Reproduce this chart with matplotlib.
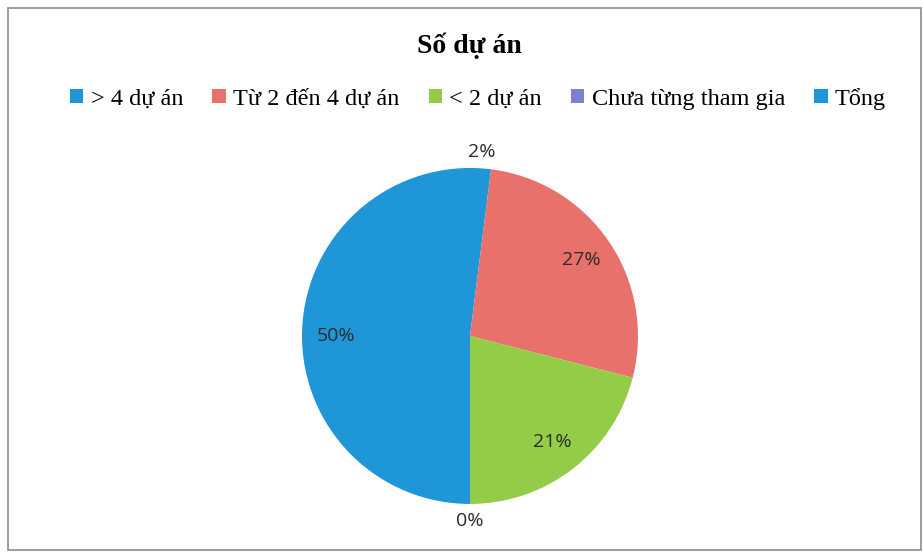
import numpy as np
import matplotlib
matplotlib.use("Agg")
import matplotlib.pyplot as plt
from matplotlib.patches import Patch, Rectangle

# ------------ DATA -----------------
title = "Số dự án"
categories = ["> 4 dự án", "Từ 2 đến 4 dự án", "< 2 dự án",
              "Chưa từng tham gia", "Tổng"]
values = [2, 27, 21, 0, 50]  # percent
colors = ["#1f96d8", "#e8716b", "#93cd48", "#7d7fd0", "#1f96d8"]

# ------------ FIGURE -----------------
fig = plt.figure(figsize=(9.23, 5.54), dpi=100)
fig.patch.set_facecolor("white")

# chart border
fig.patches.append(Rectangle((0.009, 0.008), 0.989, 0.978,
                             transform=fig.transFigure, fill=False,
                             edgecolor="#8c8c8c", linewidth=1.2))

ax = fig.add_axes([0.3272, 0.0903, 0.364, 0.6065])

wedges, texts, autotexts = ax.pie(
    values, colors=colors, startangle=90, counterclock=False,
    autopct=lambda p: "%d%%" % round(p), pctdistance=0.8,
    wedgeprops=dict(linewidth=0),
    textprops=dict(fontsize=14, family="Open Sans", color="#2b2b2b"))

# small slices get their labels outside the pie (best fit style)
for w, t, v in zip(wedges, autotexts, values):
    if v < 5:
        ang = np.deg2rad((w.theta1 + w.theta2) / 2)
        t.set_position((1.1 * np.cos(ang), 1.1 * np.sin(ang)))

ax.set_xlim(-1, 1)
ax.set_ylim(-1, 1)

fig.text(0.508, 0.917, title, ha="center", va="center", fontsize=20,
         fontweight="bold", family="Liberation Serif")

handles = [Patch(facecolor=c, edgecolor="none") for c in colors]
fig.legend(handles, categories, loc="center", bbox_to_anchor=(0.518, 0.822),
           ncol=5, frameon=False, handlelength=0.55, handleheight=0.55,
           handletextpad=0.3, columnspacing=1.2,
           prop=dict(family="Liberation Serif", size=17.5))

fig.savefig("out.png", dpi=100)
